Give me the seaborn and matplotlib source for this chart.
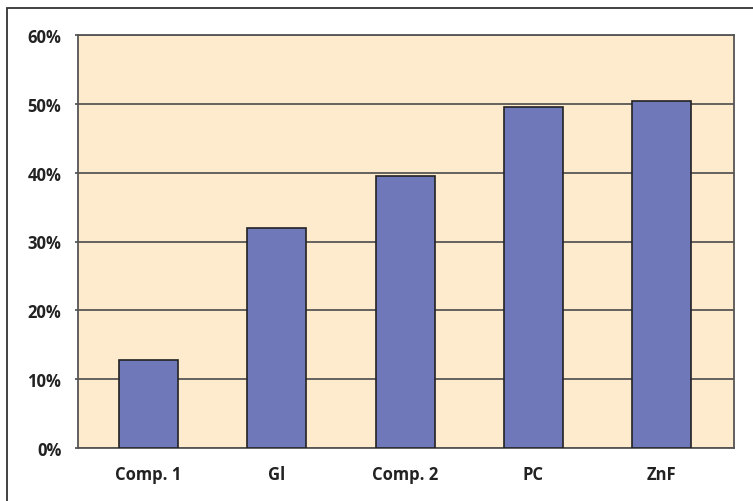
import matplotlib
matplotlib.use("Agg")
import matplotlib.pyplot as plt
from matplotlib.patches import Rectangle
import seaborn as sns
import pandas as pd

categories = ["Comp. 1", "Gl", "Comp. 2", "PC", "ZnF"]
values = [12.8, 31.9, 39.5, 49.5, 50.4]
yticks = [0, 10, 20, 30, 40, 50, 60]
ytick_labels = ["0%", "10%", "20%", "30%", "40%", "50%", "60%"]

sns.set_theme(style="white")
plt.rcParams["font.family"] = ["Open Sans", "DejaVu Sans"]

df = pd.DataFrame({"cat": categories, "val": values})

W, H = 753, 502
fig = plt.figure(figsize=(W / 100, H / 100), dpi=100)
fig.patch.set_facecolor("white")
ax = fig.add_axes([78 / W, 1 - 449 / H, (734 - 78) / W, (449 - 36) / H])
ax.set_facecolor("#FEEBCD")

sns.barplot(data=df, x="cat", y="val", ax=ax, color="#6F79B9",
            saturation=1, width=0.46, edgecolor="#222222", linewidth=1.2,
            zorder=3)

ax.set_ylim(0, 60)
ax.set_xlim(-0.55, 4.565)
ax.set_yticks(yticks)
ax.set_yticklabels(ytick_labels)
ax.yaxis.grid(True, color="#4a4a4a", linewidth=1.2, zorder=1)
ax.set_axisbelow(True)
ax.set_xlabel("")
ax.set_ylabel("")

for s in ax.spines.values():
    s.set_color("#555555")
    s.set_linewidth(1.3)
    s.set_visible(True)

ax.tick_params(axis="y", which="major", length=2, width=1.2, color="#4a4a4a",
               pad=10, labelsize=12, labelcolor="#222222", left=True)
ax.tick_params(axis="x", which="major", length=0, pad=12, labelsize=12,
               labelcolor="#222222")
for lab in ax.get_xticklabels() + ax.get_yticklabels():
    lab.set_fontweight("bold")

# outer frame of the figure
frame = Rectangle((7 / W, -0.1), 2.0, (H - 9) / H + 0.1,
                  transform=fig.transFigure, fill=False,
                  edgecolor="#333333", linewidth=1.3, clip_on=False)
fig.patches.append(frame)

fig.savefig("out.png", dpi=100)
